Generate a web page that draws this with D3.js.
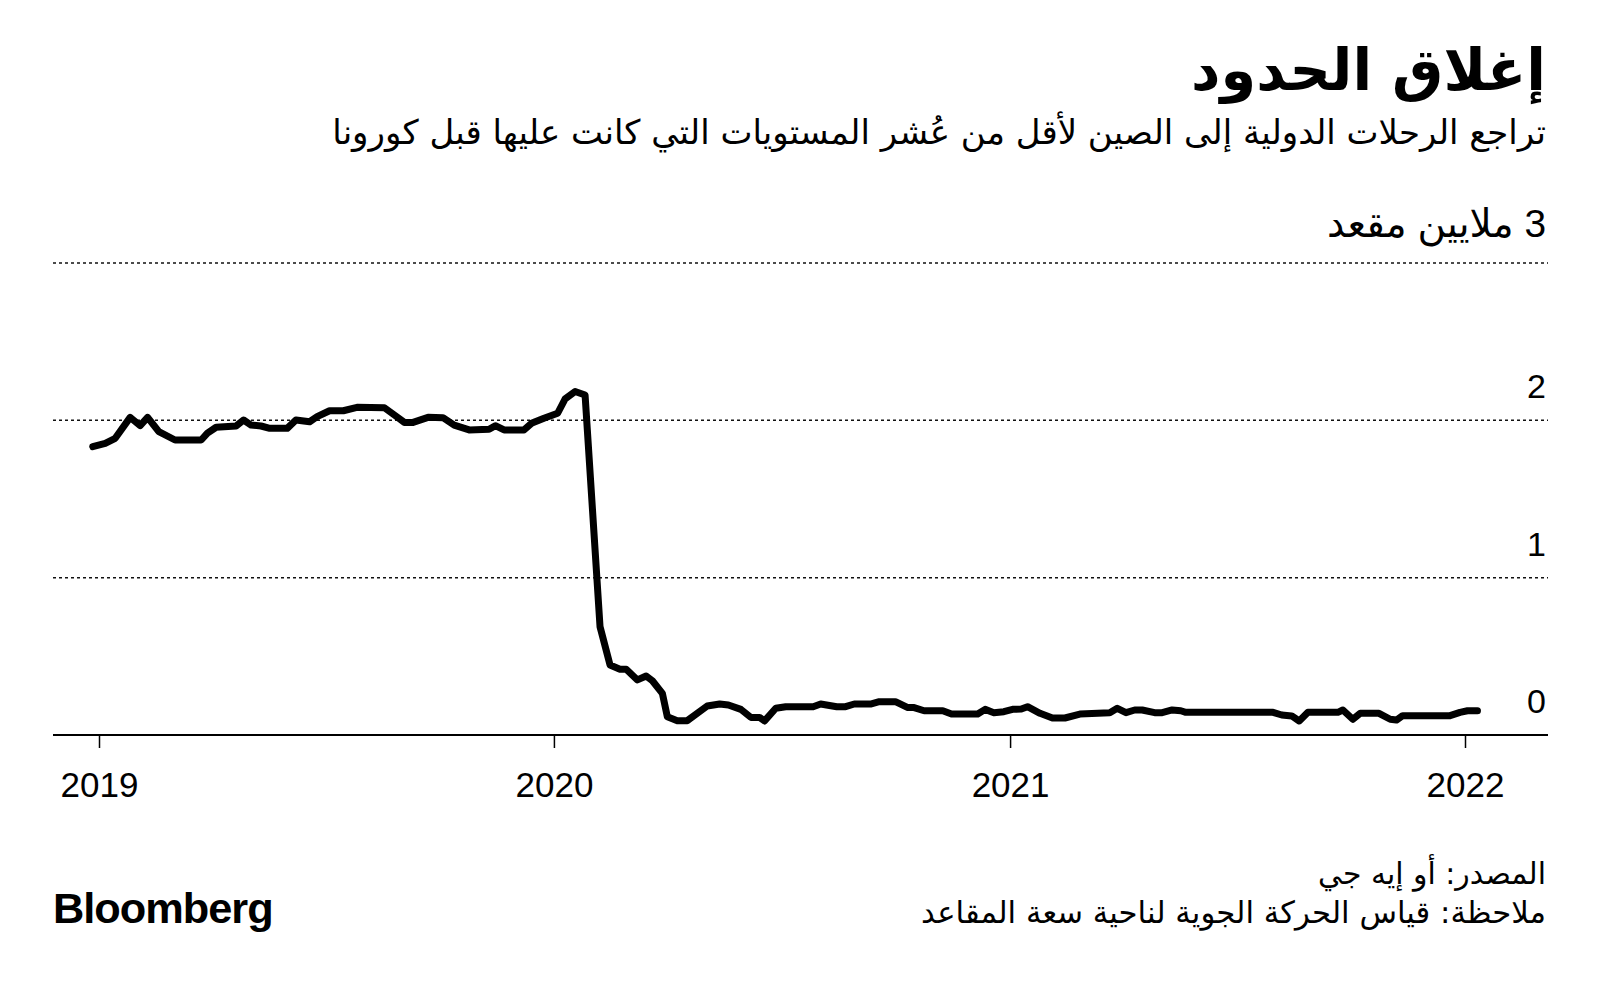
<!DOCTYPE html>
<html><head><meta charset="utf-8">
<script src="https://cdn.jsdelivr.net/npm/d3@7"></script>
<style>html,body{margin:0;padding:0;background:#fff;} svg{display:block}</style>
</head><body>
<svg id="chart" width="1600" height="987"></svg>
<script>
const titleText = "إغلاق الحدود";
const subtitleText = "تراجع الرحلات الدولية إلى الصين لأقل من عُشر المستويات التي كانت عليها قبل كورونا";
const sourceText = "المصدر: أو إيه جي";
const noteText = "ملاحظة: قياس الحركة الجوية لناحية سعة المقاعد";
const brandText = "Bloomberg";

const yTicks = [0, 1, 2, 3];
const yTickLabels = ["0", "1", "2", "3 ملايين مقعد"];
const xTicks = ["2019-01-01", "2020-01-01", "2021-01-01", "2022-01-01"];
const xTickLabels = ["2019", "2020", "2021", "2022"];

// International seat capacity to China, millions of seats
const dates = [
"2018-12-27","2019-01-06","2019-01-14","2019-01-26","2019-02-03","2019-02-09","2019-02-18","2019-03-03",
"2019-03-24","2019-03-29","2019-04-05","2019-04-21","2019-04-27","2019-05-03","2019-05-11","2019-05-18",
"2019-06-01","2019-06-08","2019-06-19","2019-06-25","2019-07-05","2019-07-16","2019-07-27","2019-08-18",
"2019-08-26","2019-09-03","2019-09-10","2019-09-22","2019-10-04","2019-10-13","2019-10-25","2019-11-10",
"2019-11-15","2019-11-22","2019-12-08","2019-12-14","2019-12-24","2020-01-04","2020-01-10","2020-01-18",
"2020-01-26","2020-02-07","2020-02-15","2020-02-23","2020-02-28","2020-03-08","2020-03-15","2020-03-20",
"2020-03-28","2020-04-01","2020-04-09","2020-04-17","2020-05-03","2020-05-13","2020-05-20","2020-05-30",
"2020-06-07","2020-06-14","2020-06-18","2020-06-27","2020-07-05","2020-07-27","2020-08-02","2020-08-15",
"2020-08-22","2020-08-29","2020-09-11","2020-09-18","2020-10-01","2020-10-11","2020-10-16","2020-10-24",
"2020-11-08","2020-11-15","2020-12-06","2020-12-12","2020-12-19","2020-12-27","2021-01-03","2021-01-10",
"2021-01-15","2021-01-25","2021-02-04","2021-02-14","2021-02-26","2021-03-22","2021-03-28","2021-04-04",
"2021-04-11","2021-04-17","2021-04-27","2021-05-03","2021-05-11","2021-05-18","2021-05-22","2021-07-31",
"2021-08-07","2021-08-15","2021-08-21","2021-08-28","2021-09-21","2021-09-25","2021-10-03","2021-10-09",
"2021-10-24","2021-11-02","2021-11-07","2021-11-12","2021-12-20","2021-12-28","2022-01-03","2022-01-11"
];
const seats = [
1.833,1.854,1.886,2.019,1.966,2.019,1.928,1.875,
1.875,1.918,1.956,1.964,2.002,1.970,1.964,1.949,
1.949,2.002,1.991,2.023,2.061,2.061,2.083,2.080,
2.034,1.987,1.987,2.019,2.017,1.970,1.939,1.943,
1.966,1.939,1.939,1.981,2.013,2.045,2.136,2.183,
2.161,0.688,0.445,0.418,0.418,0.350,0.375,0.345,
0.265,0.116,0.091,0.091,0.184,0.197,0.191,0.163,
0.112,0.112,0.089,0.170,0.180,0.180,0.197,0.180,
0.180,0.197,0.197,0.212,0.212,0.174,0.174,0.154,
0.154,0.133,0.133,0.163,0.142,0.148,0.163,0.165,
0.180,0.138,0.108,0.108,0.133,0.142,0.170,0.142,
0.159,0.159,0.142,0.142,0.159,0.154,0.144,0.144,
0.127,0.121,0.089,0.144,0.144,0.159,0.100,0.138,
0.138,0.100,0.095,0.123,0.123,0.144,0.154,0.154
];

const parse = d3.timeParse("%Y-%m-%d");
const data = dates.map((d, i) => ({date: parse(d), value: seats[i]}));

const svg = d3.select("#chart");
svg.append("rect").attr("width", 1600).attr("height", 987).attr("fill", "#fff");

const x = d3.scaleTime().domain([parse(xTicks[0]), parse(xTicks[3])]).range([99, 1465]);
const y = d3.scaleLinear().domain([0, 3]).range([735, 263]);
const gridX0 = 53, gridX1 = 1548, rightX = 1546;

const arabicFont = "'DejaVu Sans', sans-serif";
const latinFont = "'Liberation Sans', 'DejaVu Sans', Arial, sans-serif";

function fitWidth(sel, target) {
  const w = sel.node().getComputedTextLength();
  const fs = parseFloat(sel.attr("font-size"));
  sel.attr("font-size", (fs * target / w).toFixed(2));
}

// Title & subtitle
const t = svg.append("text").attr("x", rightX).attr("y", 90)
  .attr("direction", "rtl").attr("text-anchor", "start")
  .attr("font-family", arabicFont).attr("font-weight", "bold").attr("font-size", 50)
  .attr("fill", "#000").text(titleText);
fitWidth(t, 355);

const st = svg.append("text").attr("x", rightX).attr("y", 144)
  .attr("direction", "rtl").attr("text-anchor", "start")
  .attr("font-family", arabicFont).attr("font-size", 28)
  .attr("fill", "#000").text(subtitleText);
fitWidth(st, 1214);

// Gridlines
const grid = svg.append("g");
grid.selectAll("line").data(yTicks.filter(v => v !== 0)).join("line")
  .attr("x1", gridX0).attr("x2", gridX1)
  .attr("y1", d => y(d)).attr("y2", d => y(d))
  .attr("stroke", "#111").attr("stroke-width", 1.5).attr("stroke-dasharray", "3,3");

// Y labels
const yl = svg.append("g").selectAll("text").data(yTicks).join("text")
  .attr("x", rightX).attr("y", d => y(d) - (d === 3 ? 26 : 22))
  .attr("direction", "rtl").attr("text-anchor", "start")
  .attr("font-family", latinFont).attr("font-size", 34).attr("fill", "#000")
  .text((d, i) => yTickLabels[i]);
yl.filter(d => d === 3).each(function() { fitWidth(d3.select(this), 219); });

// X axis
const xAxis = d3.axisBottom(x)
  .tickValues(xTicks.map(parse))
  .tickFormat((d, i) => xTickLabels[i])
  .tickSize(13).tickPadding(24);
const gx = svg.append("g").attr("transform", "translate(0,735)").call(xAxis);
gx.select(".domain").remove();
gx.selectAll(".tick line").attr("stroke", "#000").attr("stroke-width", 1.5);
gx.selectAll(".tick text").attr("font-family", latinFont).attr("font-size", 35).attr("fill", "#000");

// Baseline
svg.append("line").attr("x1", gridX0).attr("x2", gridX1).attr("y1", y(0)).attr("y2", y(0))
  .attr("stroke", "#000").attr("stroke-width", 2);

// Data line
const line = d3.line().x(d => x(d.date)).y(d => y(d.value));
svg.append("path").datum(data).attr("d", line)
  .attr("fill", "none").attr("stroke", "#000").attr("stroke-width", 7)
  .attr("stroke-linejoin", "round").attr("stroke-linecap", "round");

// Footer
const src = svg.append("text").attr("x", rightX).attr("y", 884)
  .attr("direction", "rtl").attr("text-anchor", "start")
  .attr("font-family", arabicFont).attr("font-size", 24).attr("fill", "#000").text(sourceText);
fitWidth(src, 228);
const note = svg.append("text").attr("x", rightX).attr("y", 923)
  .attr("direction", "rtl").attr("text-anchor", "start")
  .attr("font-family", arabicFont).attr("font-size", 24).attr("fill", "#000").text(noteText);
fitWidth(note, 625);

const br = svg.append("text").attr("x", 53).attr("y", 923)
  .attr("font-family", latinFont).attr("font-weight", "bold").attr("font-size", 40)
  .attr("letter-spacing", -1).attr("fill", "#000").text(brandText);
fitWidth(br, 219);
</script>
</body></html>
